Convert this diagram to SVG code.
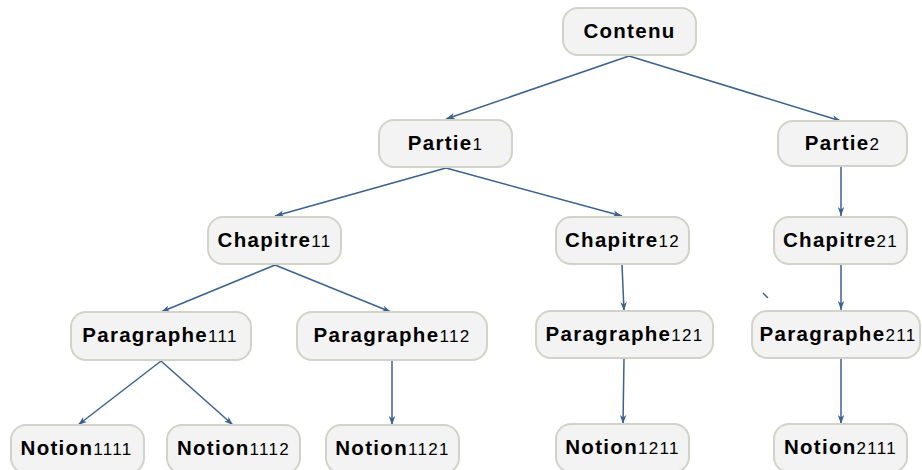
<svg xmlns="http://www.w3.org/2000/svg" width="922" height="470" viewBox="0 0 922 470">
<style>
.box{fill:#f3f3f3;stroke:#d3d2c8;stroke-width:2}
.lbl{font-family:"Liberation Sans",Arial,sans-serif;font-size:20.5px;font-weight:bold;fill:#000;letter-spacing:1.3px;text-anchor:middle}
.sub{font-size:17px;font-weight:normal;letter-spacing:1.3px}
.edge{stroke:#3b6191;stroke-width:1.5;fill:none;marker-end:url(#arr)}
</style>
<defs>
<marker id="arr" markerUnits="userSpaceOnUse" markerWidth="10" markerHeight="8" refX="9" refY="4" orient="auto">
<path d="M0,0.8 L9,4 L0,7.2 L2.5,4 z" fill="#3b6191"/>
</marker>
</defs>
<rect width="922" height="470" fill="#fff"/>
<g id="connectors">
<line class="edge" x1="629" y1="56" x2="446" y2="119"/>
<line class="edge" x1="629" y1="56" x2="841" y2="121"/>
<line class="edge" x1="446" y1="168" x2="275" y2="216"/>
<line class="edge" x1="446" y1="168" x2="622" y2="216"/>
<line class="edge" x1="841" y1="167" x2="841" y2="216"/>
<line class="edge" x1="275" y1="265" x2="161" y2="312"/>
<line class="edge" x1="275" y1="265" x2="391" y2="312"/>
<line class="edge" x1="622" y1="265" x2="624" y2="311"/>
<line class="edge" x1="841" y1="265" x2="841" y2="310"/>
<line class="edge" x1="161" y1="361" x2="78" y2="425"/>
<line class="edge" x1="161" y1="361" x2="233" y2="425"/>
<line class="edge" x1="392" y1="361" x2="392" y2="425"/>
<line class="edge" x1="624" y1="359" x2="623" y2="424"/>
<line class="edge" x1="841" y1="359" x2="841" y2="424"/>
<line x1="763" y1="293" x2="768" y2="298" stroke="#3b6191" stroke-width="1.5"/>
</g>
<g id="contenu"><rect class="box" x="563" y="8" width="133" height="47" rx="15"/><text class="lbl" x="629.5" y="38">Contenu</text></g>
<g id="partie1"><rect class="box" x="379" y="120" width="133" height="47" rx="15"/><text class="lbl" x="445.5" y="150">Partie<tspan class="sub">1</tspan></text></g>
<g id="partie2"><rect class="box" x="778" y="121" width="129" height="45" rx="15"/><text class="lbl" x="842.5" y="150">Partie<tspan class="sub">2</tspan></text></g>
<g id="chapitre11"><rect class="box" x="208" y="217" width="133" height="47" rx="15"/><text class="lbl" x="274.5" y="247">Chapitre<tspan class="sub">11</tspan></text></g>
<g id="chapitre12"><rect class="box" x="556" y="217" width="133" height="47" rx="15"/><text class="lbl" x="622.5" y="247">Chapitre<tspan class="sub">12</tspan></text></g>
<g id="chapitre21"><rect class="box" x="774" y="217" width="133" height="47" rx="15"/><text class="lbl" x="840.5" y="247">Chapitre<tspan class="sub">21</tspan></text></g>
<g id="paragraphe111"><rect class="box" x="71" y="312" width="180" height="48" rx="15"/><text class="lbl" x="160" y="342">Paragraphe<tspan class="sub">111</tspan></text></g>
<g id="paragraphe112"><rect class="box" x="297" y="312" width="190" height="48" rx="15"/><text class="lbl" x="392" y="342">Paragraphe<tspan class="sub">112</tspan></text></g>
<g id="paragraphe121"><rect class="box" x="536" y="311" width="177" height="47" rx="15"/><text class="lbl" x="624.5" y="341">Paragraphe<tspan class="sub">121</tspan></text></g>
<g id="paragraphe211"><rect class="box" x="752" y="311" width="168" height="47" rx="15"/><text class="lbl" x="838" y="341">Paragraphe<tspan class="sub">211</tspan></text></g>
<g id="notion1111"><rect class="box" x="11" y="425" width="133" height="48" rx="15"/><text class="lbl" x="76.5" y="455">Notion<tspan class="sub">1111</tspan></text></g>
<g id="notion1112"><rect class="box" x="167" y="425" width="133" height="48" rx="15"/><text class="lbl" x="233.5" y="455">Notion<tspan class="sub">1112</tspan></text></g>
<g id="notion1121"><rect class="box" x="326" y="425" width="133" height="48" rx="15"/><text class="lbl" x="392.5" y="455">Notion<tspan class="sub">1121</tspan></text></g>
<g id="notion1211"><rect class="box" x="556" y="424" width="133" height="48" rx="15"/><text class="lbl" x="622.5" y="454">Notion<tspan class="sub">1211</tspan></text></g>
<g id="notion2111"><rect class="box" x="774" y="424" width="133" height="48" rx="15"/><text class="lbl" x="840.5" y="454">Notion<tspan class="sub">2111</tspan></text></g>
</svg>
